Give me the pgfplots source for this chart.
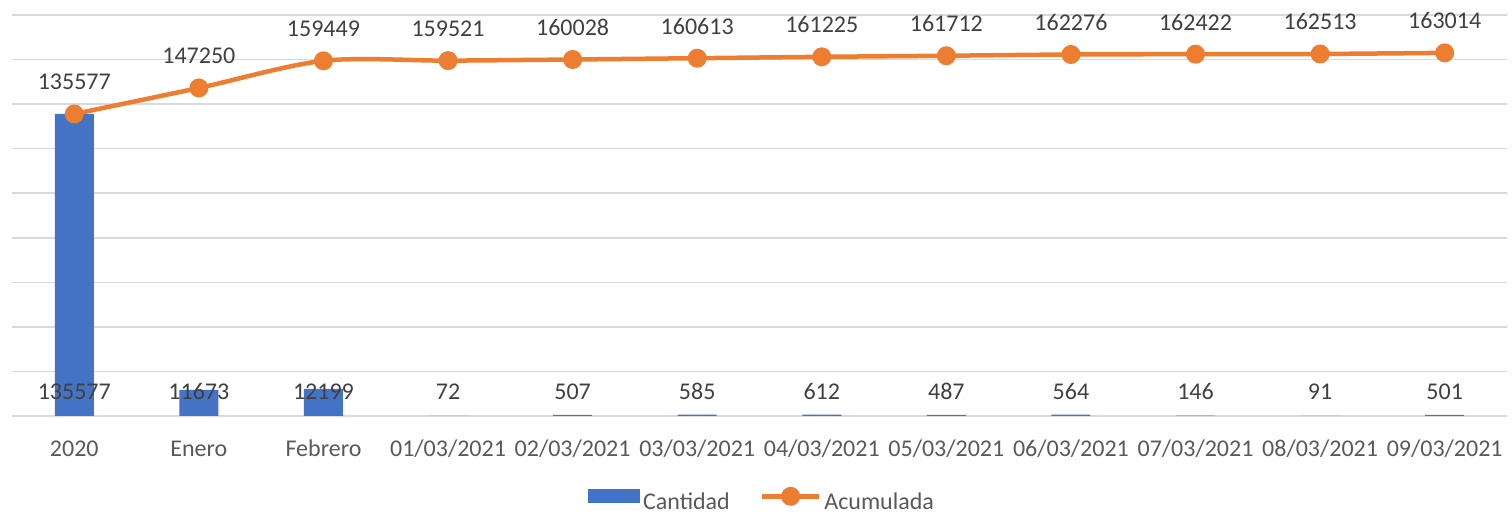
\documentclass[border=0pt]{standalone}
\usepackage{fontspec}
\setmainfont{Carlito}
\usepackage{pgfplots}
\usepackage{pgfplotstable}
\pgfplotsset{compat=1.18}
\definecolor{barblue}{HTML}{4472C4}
\definecolor{lineorange}{HTML}{ED7D31}
\definecolor{gridgray}{HTML}{D9D9D9}
\definecolor{labgray}{HTML}{404040}
\definecolor{tickgray}{HTML}{595959}
\pgfplotstableread{
x cant acum
0 135577 135577
1 11673 147250
2 12199 159449
3 72 159521
4 507 160028
5 585 160613
6 612 161225
7 487 161712
8 564 162276
9 146 162422
10 91 162513
11 501 163014
}\datatable
\newcommand{\lblfont}{\fontsize{12pt}{14pt}\selectfont}
\begin{document}
\begin{tikzpicture}
\begin{axis}[
  scale only axis, width=747.5pt, height=200.5pt,
  xmin=-0.5, xmax=11.5, ymin=0, ymax=180000,
  xtick={0,...,11},
  xticklabels={2020,Enero,Febrero,01/03/2021,02/03/2021,03/03/2021,04/03/2021,05/03/2021,06/03/2021,07/03/2021,08/03/2021,09/03/2021},
  ytick={0,20000,...,180000}, yticklabels={}, scaled y ticks=false,
  ymajorgrids, grid style={gridgray, line width=0.75pt},
  axis line style={draw=none}, major tick length=0pt,
  xticklabel style={font=\lblfont, text=tickgray, anchor=base, inner sep=0pt, yshift=-20pt},
  clip=false,
  legend columns=2,
  legend style={at={(0.502,-0.212)}, anchor=center, draw=none, fill=none,
    font=\lblfont, text=tickgray,
    /tikz/every even column/.append style={column sep=13.5pt},
    nodes={inner sep=1.5pt}},
]
\addplot[ybar, bar width=19.5pt, fill=barblue, draw=none,
  legend image code/.code={\fill[barblue] (0pt,-0.5pt) rectangle (26pt,6.5pt);}]
  table[x=x, y=cant] {\datatable};
\addlegendentry{Cantidad}
\addplot[lineorange, line width=2.25pt, smooth, mark=*, mark size=3.6pt,
  mark options={fill=lineorange, draw=lineorange},
  nodes near coords={\pgfplotspointmeta}, point meta=explicit symbolic,
  every node near coord/.append style={font=\lblfont, text=labgray, anchor=base, inner sep=0pt, yshift=12pt},
  legend image code/.code={\draw[lineorange, line width=2.25pt] (0pt,3pt) -- (28.5pt,3pt); \fill[lineorange] (14.25pt,3pt) circle (3.6pt);}]
  table[x=x, y=acum, meta=acum] {\datatable};
\addlegendentry{Acumulada}
\addplot[draw=none, mark=none, forget plot,
  nodes near coords={\pgfplotspointmeta}, point meta=explicit symbolic,
  every node near coord/.append style={font=\lblfont, text=labgray, anchor=base, inner sep=0pt, yshift=8.5pt}]
  table[x=x, y expr=0, meta=cant] {\datatable};
\end{axis}
\pgfresetboundingbox
\path[use as bounding box] (-6pt,-52pt) rectangle (750pt,208pt);
\end{tikzpicture}
\end{document}
